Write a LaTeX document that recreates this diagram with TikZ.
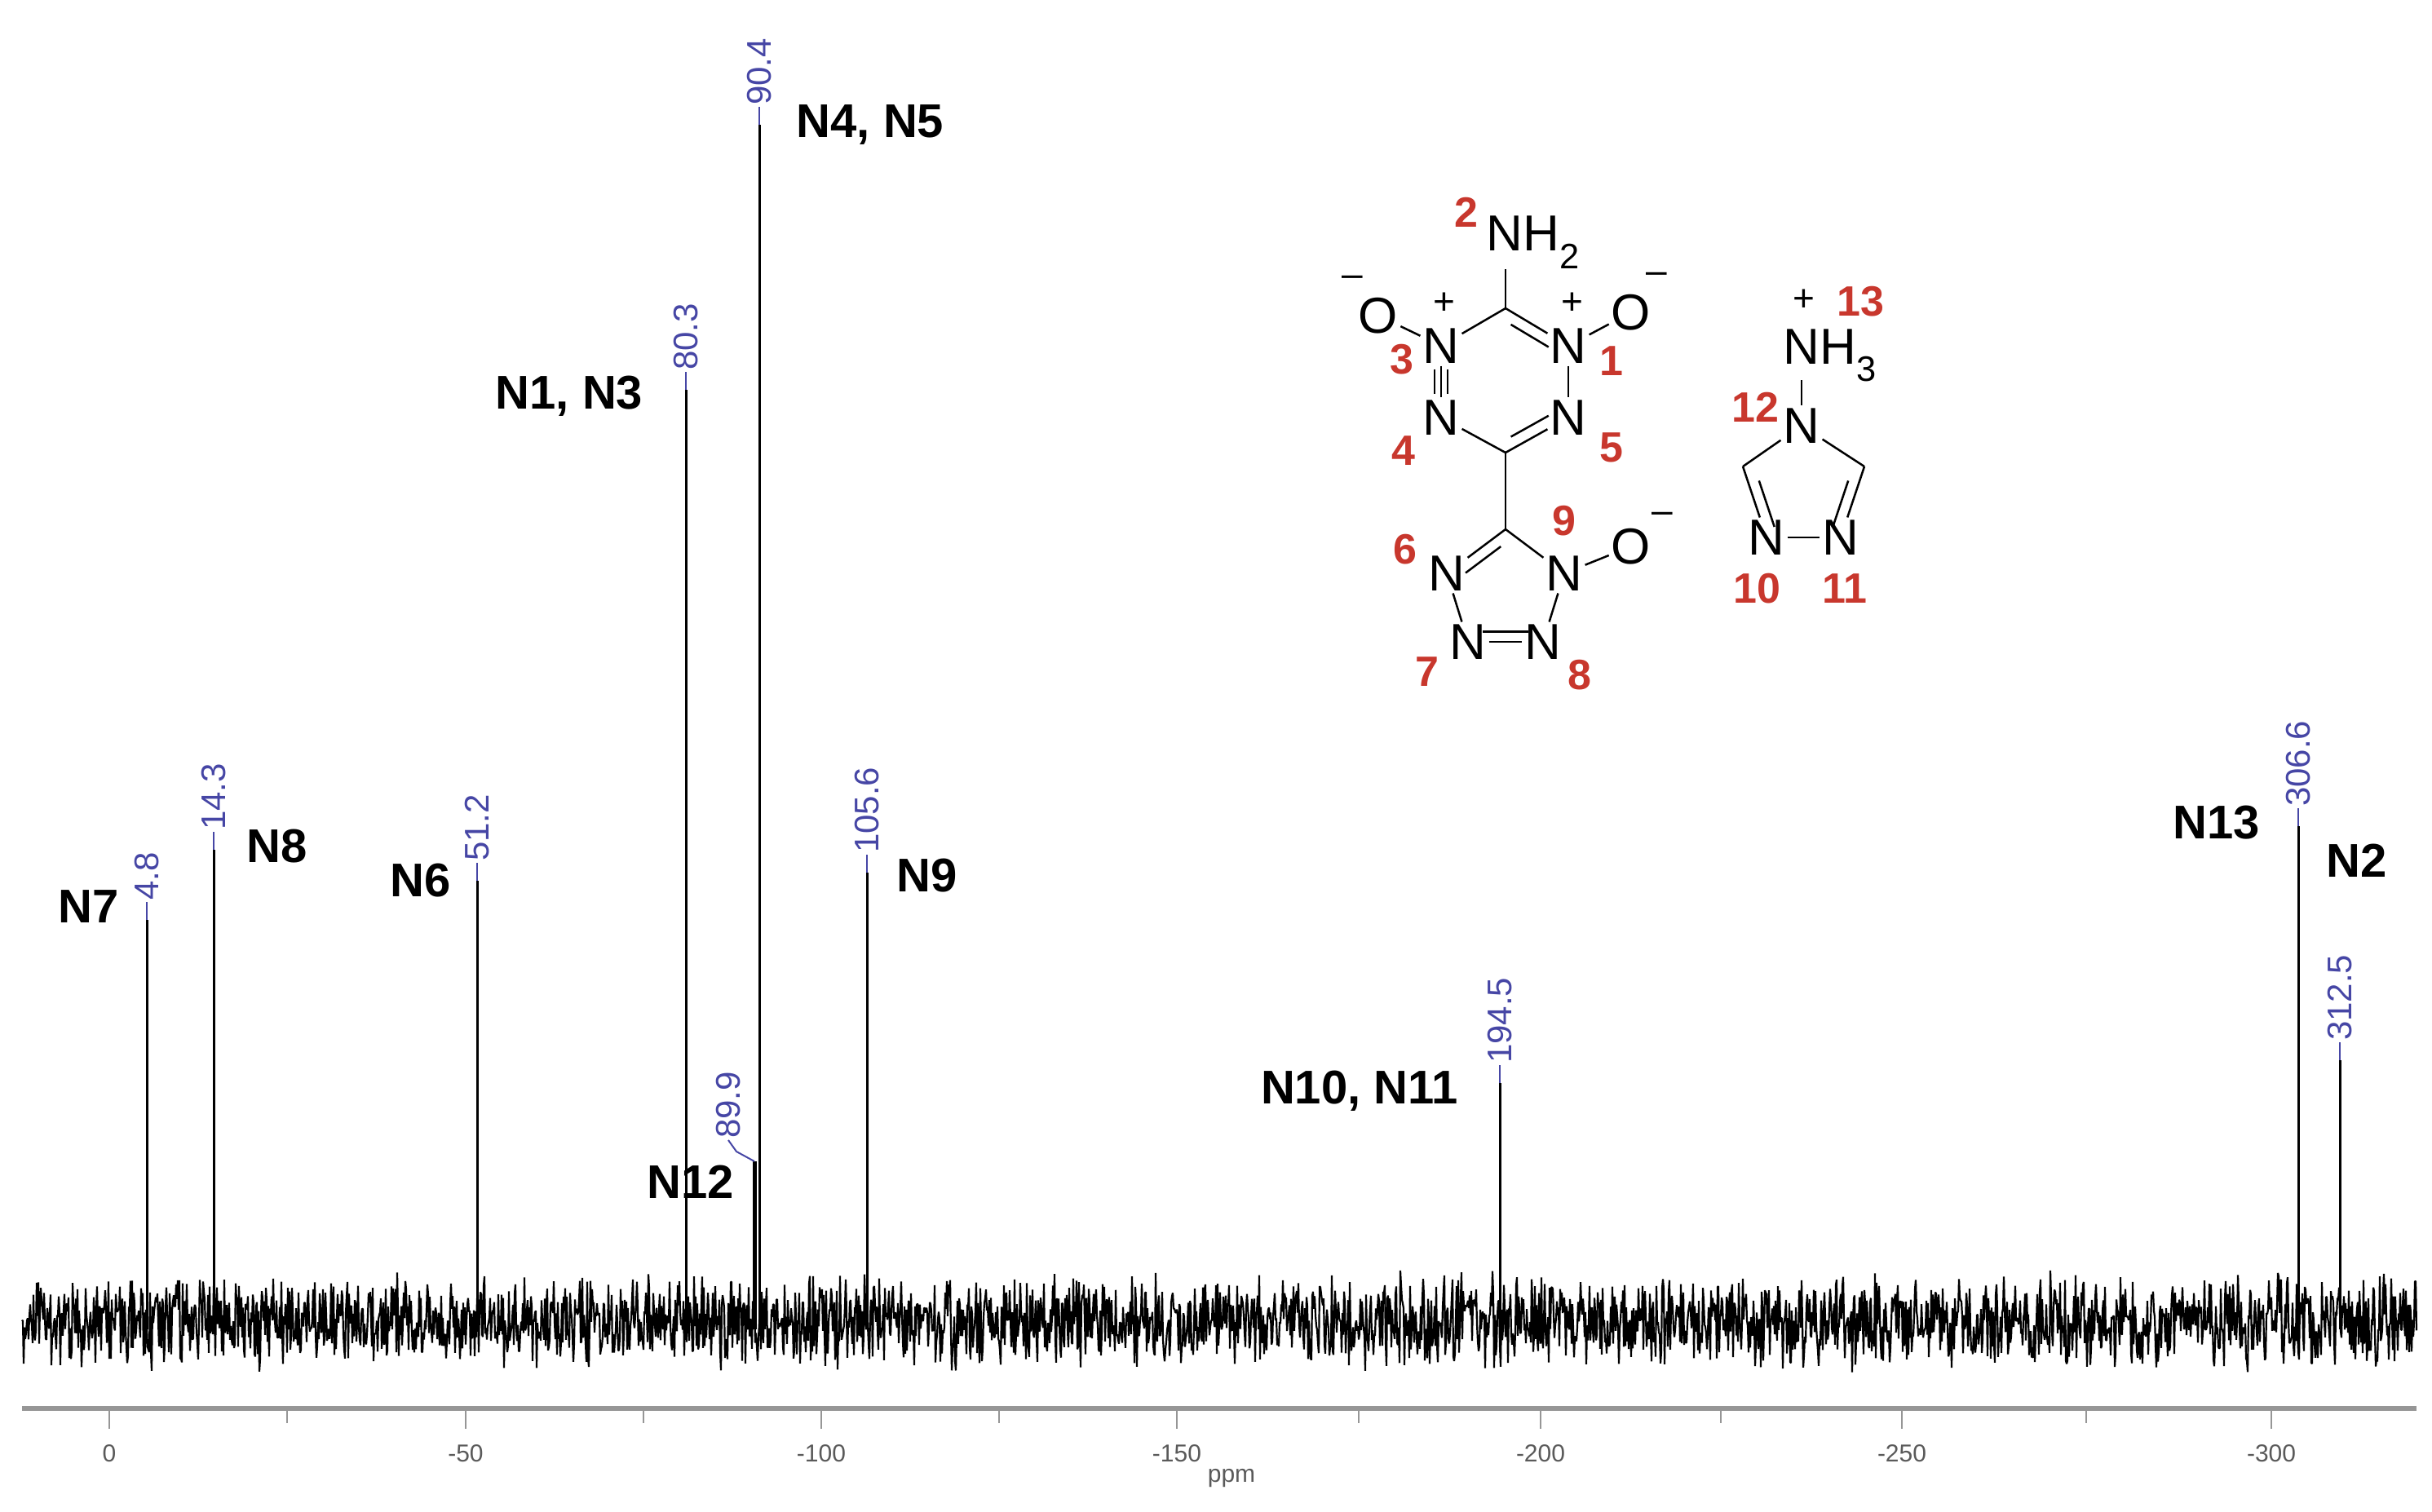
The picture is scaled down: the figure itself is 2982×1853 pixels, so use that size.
\documentclass[tikz,border=0pt]{standalone}
\usepackage{fontspec}
\setmainfont{Liberation Sans}
\usetikzlibrary{calc}
\definecolor{lblue}{RGB}{70,70,165}
\definecolor{nred}{RGB}{200,55,45}
\definecolor{axgray}{RGB}{150,150,150}
\tikzset{
  pk/.style={line width=3pt,black},
  ppmlab/.style={lblue,rotate=90,anchor=west,inner sep=2pt,font=\fontsize{42}{44}\selectfont},
  lead/.style={lblue,line width=2pt},
  nlab/.style={font=\fontsize{58}{62}\selectfont\bfseries},
  atom/.style={inner sep=3pt,font=\fontsize{62}{64}\selectfont},
  num/.style={nred,inner sep=0pt,font=\fontsize{52}{54}\selectfont\bfseries},
  chg/.style={inner sep=0pt,font=\fontsize{46}{48}\selectfont},
  bond/.style={line width=2.5pt},
  tlab/.style={axgray!60!black,font=\fontsize{30}{32}\selectfont}
}
\begin{document}
\begin{tikzpicture}[x=1pt,y=-1pt]
\useasboundingbox (0,0) rectangle (2982,1853);
% noise
\pgfmathsetseed{7}
\draw[line width=2.2pt,line join=bevel] (27,1620) \foreach \i in {1,...,2936} { -- ({27+\i},{1620+rand*42+rand*22}) };
% axis
\draw[axgray,line width=6pt] (27,1727) -- (2963,1727);
\foreach \x/\l in {134/0,571/-50,1007/-100,1443/-150,1889/-200,2332/-250,2785/-300}{
  \draw[axgray,line width=2.5pt] (\x,1727) -- (\x,1752);
  \node[tlab] (t\x) at (\x,1782) {\l};
}
\foreach \x in {352,789,1225,1666,2110,2558}{\draw[axgray,line width=2.5pt] (\x,1727) -- (\x,1745);}
\node[tlab] (ppm) at (1510,1813) {ppm};
% peaks
\foreach \n/\x/\t/\v in {a/180/1128/4.8, b/262/1042/14.3, c/585/1080/51.2, d/841/478/80.3, e/931/153/90.4, g/1063/1070/105.6, h/1839/1328/194.5, i/2818/1013/306.6, j/2869/1300/312.5}{
  \coordinate (p\n) at (\x,\t);
  \coordinate (q\n) at (\x,1630);
  \draw[pk] (q\n) -- (p\n);
  \draw[lead] (p\n) -- ++(0,-22) coordinate (r\n);
  \node[ppmlab] (l\n) at (r\n) {\v};
}
\coordinate (pf) at (925,1424);
\coordinate (qf) at (925,1630);
\draw[line width=5pt] (qf) -- (pf);
\draw[lead] (pf) -- (903,1412) -- (893,1398) coordinate (rf);
\node[ppmlab] (lf) at (rf) {89.9};
% peak labels
\node[nlab] (N7) at (109,1112) {N7};
\node[nlab] (N8) at (340,1038) {N8};
\node[nlab] (N6) at (516,1080) {N6};
\node[nlab] (N13l) at (698,486) {N1, N3};
\node[nlab] (N45) at (1067,153) {N4, N5};
\node[nlab] (N12) at (847,1449) {N12};
\node[nlab] (N9) at (1137,1074) {N9};
\node[nlab] (N1011) at (1667,1338) {N10, N11};
\node[nlab] (N13) at (2718,1009) {N13};
\node[nlab] (N2) at (2890,1055) {N2};
% molecule 1
\node[atom] (nh2) at (1880,297) {NH\textsubscript{2}};
\coordinate (ct) at (1846,378);
\node[atom] (n3) at (1767,424) {N};
\node[atom] (n1) at (1923,424) {N};
\node[atom] (o3) at (1690,387) {O};
\node[atom] (o1) at (2000,383) {O};
\node[atom] (n4) at (1767,512) {N};
\node[atom] (n5) at (1923,512) {N};
\coordinate (cb) at (1846,555);
\coordinate (cc) at (1846,649);
\node[atom] (n6) at (1774,703) {N};
\node[atom] (n9) at (1918,703) {N};
\node[atom] (o9) at (2000,670) {O};
\node[atom] (n7) at (1800,787) {N};
\node[atom] (n8) at (1892,787) {N};
\draw[bond] (1846,330) -- (ct);
\draw[bond] (ct) -- (n3); \draw[bond] (ct) -- (n1);
\draw[bond] (n3) -- (o3); \draw[bond] (n1) -- (o1);
\draw[bond] (n3) -- (n4); \draw[bond] (n1) -- (n5);
\draw[bond] (n4) -- (cb); \draw[bond] (n5) -- (cb);
\draw[bond] (cb) -- (cc);
\draw[bond] (cc) -- (n6); \draw[bond] (cc) -- (n9);
\draw[bond] (n9) -- (o9);
\draw[bond] (n6) -- (n7); \draw[bond] (n9) -- (n8); \draw[bond] (n7) -- (n8);
\draw[bond] ($(n3.south)+(8,4)$) -- ($(n4.north)+(8,-4)$);
\draw[bond] ($(n3.south)+(-8,4)$) -- ($(n4.north)+(-8,-4)$);
\draw[bond] ($(ct)!0.15!(n1)+(-5,13)$) -- ($(ct)!0.75!(n1)+(-5,13)$);
\draw[bond] ($(cb)!0.15!(n5)+(-5,-13)$) -- ($(cb)!0.75!(n5)+(-5,-13)$);
\draw[bond] ($(cc)!0.15!(n6)+(5,13)$) -- ($(cc)!0.75!(n6)+(5,13)$);
\draw[bond] ($(n7.north)+(18,12)$) -- ($(n8.north)+(-18,12)$);
\node[chg] (m3) at (1658,345) {–};
\node[chg] (m1) at (2031,341) {–};
\node[chg] (m9) at (2038,635) {–};
\node[chg] (p3) at (1771,372) {+};
\node[chg] (p1) at (1928,372) {+};
\node[num] (k2) at (1798,260) {2};
\node[num] (k3) at (1719,441) {3};
\node[num] (k1) at (1976,443) {1};
\node[num] (k4) at (1721,553) {4};
\node[num] (k5) at (1976,549) {5};
\node[num] (k9) at (1918,639) {9};
\node[num] (k6) at (1723,674) {6};
\node[num] (k7) at (1750,824) {7};
\node[num] (k8) at (1937,828) {8};
% molecule 2
\node[atom] (nh3) at (2244,436) {NH\textsubscript{3}};
\node[atom] (n12) at (2209,522) {N};
\coordinate (cl) at (2137,572);
\coordinate (cr) at (2286,572);
\node[atom] (n10) at (2166,659) {N};
\node[atom] (n11) at (2257,659) {N};
\draw[bond] (2209,466) -- (n12);
\draw[bond] (n12) -- (cl); \draw[bond] (n12) -- (cr);
\draw[bond] (cl) -- (n10); \draw[bond] (cr) -- (n11); \draw[bond] (n10) -- (n11);
\draw[bond] ($(cl)!0.2!(n10)+(14,0)$) -- ($(cl)!0.85!(n10)+(14,0)$);
\draw[bond] ($(cr)!0.2!(n11)+(-14,0)$) -- ($(cr)!0.85!(n11)+(-14,0)$);
\node[chg] (p13) at (2212,368) {+};
\node[num] (k13) at (2281,370) {13};
\node[num] (k12) at (2152,499) {12};
\node[num] (k10) at (2154,722) {10};
\node[num] (k11) at (2262,722) {11};
\end{tikzpicture}
\end{document}
